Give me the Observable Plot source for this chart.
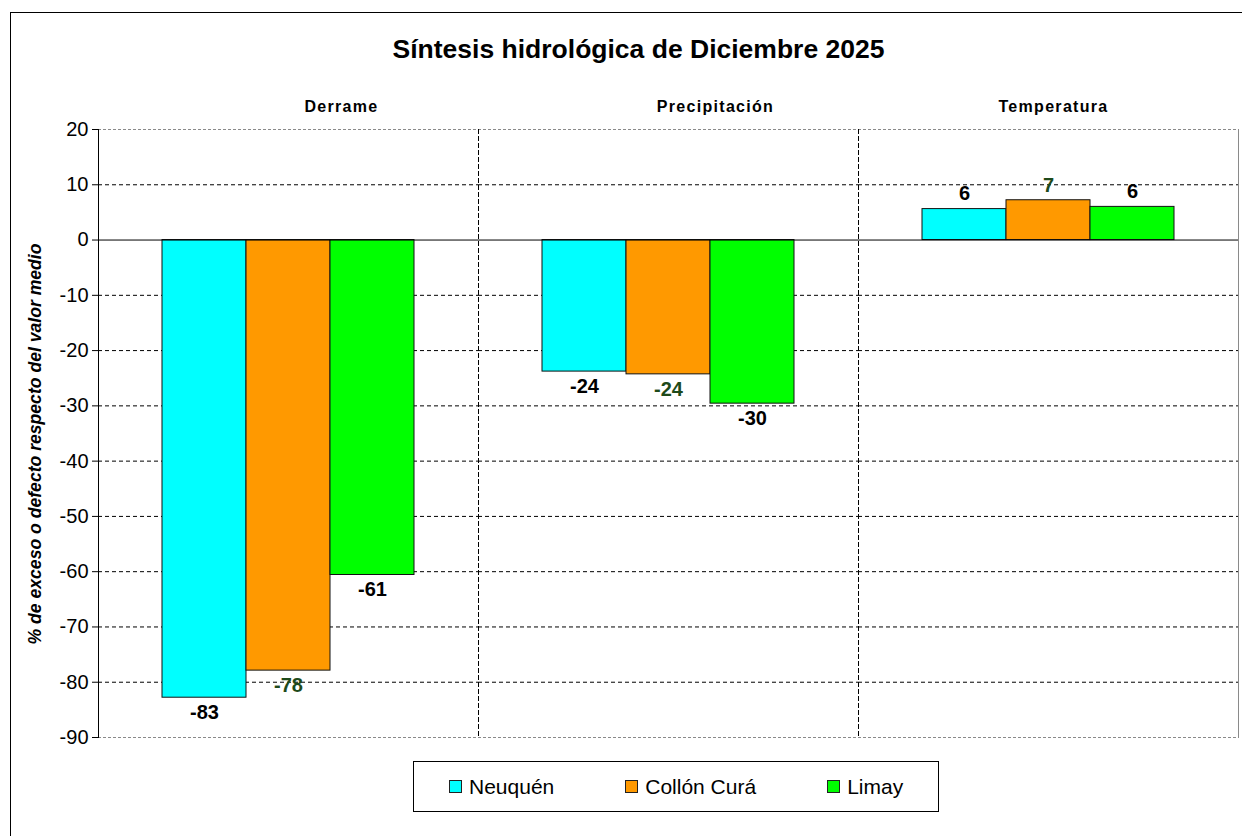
<!DOCTYPE html>
<html>
<head>
<meta charset="utf-8">
<script src="https://cdn.jsdelivr.net/npm/d3@7"></script>
<script src="https://cdn.jsdelivr.net/npm/@observablehq/plot@0.6"></script>
<style>
  html, body { margin: 0; padding: 0; background: #fff; overflow: hidden; }
  body { width: 1242px; height: 836px; position: relative; font-family: "Liberation Sans", Arial, sans-serif; }
  #outer { position: absolute; left: 10px; top: 12px; width: 1300px; height: 900px; border-left: 1.5px solid #000; border-top: 1.5px solid #000; }
  #title { position: absolute; left: 0; top: 36px; width: 1277px; text-align: center; font-size: 26.5px; line-height: 26px; font-weight: bold; color: #000; }
  #ylabel { position: absolute; left: 34.5px; top: 444px; transform: translate(-50%, -50%) rotate(-90deg); white-space: nowrap; font-size: 17.6px; font-weight: bold; font-style: italic; color: #000; }
  #chart { position: absolute; left: 0; top: 70px; }
  #legend { position: absolute; left: 413px; top: 761px; width: 526px; height: 51px; border: 1px solid #000; box-sizing: border-box; display: flex; align-items: center; padding-left: 35px; gap: 71px; }
  .item { display: flex; align-items: center; font-size: 21px; color: #000; }
  .sw { width: 13px; height: 13px; border: 1px solid #222; box-sizing: border-box; margin-right: 7px; }
</style>
</head>
<body>
<div id="outer"></div>
<div id="title">Síntesis hidrológica de Diciembre 2025</div>
<div id="ylabel">% de exceso o defecto respecto del valor medio</div>
<div id="chart"></div>
<div id="legend"></div>
<script>
// ---- data ----
const categories = ["Derrame", "Precipitación", "Temperatura"];
const series = ["Neuquén", "Collón Curá", "Limay"];
const neuquen = [-82.8, -23.8, 5.6];
const collonCura = [-77.9, -24.3, 7.2];
const limay = [-60.6, -29.6, 6.0];
const yTicks = [20, 10, 0, -10, -20, -30, -40, -50, -60, -70, -80, -90];

// ---- styles ----
const colors = ["#00FFFF", "#FF9900", "#00FF00"];
const labelColors = {"Neuquén": "#000000", "Collón Curá": "#1e4a1a", "Limay": "#000000"};
const facetLabelDx = {"Derrame": 53, "Precipitación": 47, "Temperatura": 5};

const valuesBySeries = [neuquen, collonCura, limay];
const rows = [];
categories.forEach((c, ci) => {
  series.forEach((s, si) => {
    rows.push({cat: c, series: s, value: valuesBySeries[si][ci]});
  });
});
const fmt = v => String(Math.round(v));

const labelMarks = [];
for (const s of series) {
  for (const neg of [true, false]) {
    labelMarks.push(Plot.text(rows.filter(d => d.series === s && (d.value < 0) === neg), {
      fx: "cat", x: "series", y: "value", text: d => fmt(d.value),
      dy: neg ? 15 : -15, fill: labelColors[s], fontWeight: "bold", fontSize: 20
    }));
  }
}

const facetLabelMarks = categories.map(c => Plot.text([c], {
  fx: d => d, text: d => d, frameAnchor: "top", dy: -29, dx: facetLabelDx[c],
  fontWeight: "bold", fontSize: 16, fill: "#000"
}));

const chart = Plot.plot({
  width: 1242,
  height: 680,
  marginLeft: 97,
  marginRight: 3,
  marginTop: 59,
  marginBottom: 13,
  style: {fontFamily: "'Liberation Sans', Arial, sans-serif", background: "transparent", color: "#000"},
  fx: {domain: categories, padding: 0, axis: null},
  x: {domain: series, paddingInner: 0, paddingOuter: 0.7525, axis: null},
  y: {domain: [-90, 20]},
  color: {domain: series, range: colors},
  marks: [
    Plot.ruleY(yTicks.filter(t => t !== 0 && t !== 20 && t !== -90), {stroke: "#000", strokeWidth: 1, strokeDasharray: "4,3"}),
    Plot.ruleY([20, -90], {stroke: "#8a8a8a", strokeWidth: 1.2, strokeDasharray: "3,2"}),
    Plot.frame({anchor: "left", stroke: "#000", strokeDasharray: "4,3"}),
    Plot.frame({anchor: "right", stroke: "#8a8a8a", facetAnchor: "right"}),
    Plot.barY(rows, {fx: "cat", x: "series", y: "value", fill: "series", stroke: "#111", strokeWidth: 1}),
    Plot.ruleY([0], {stroke: "#000", strokeWidth: 1}),
    Plot.frame({anchor: "left", stroke: "#000", facetAnchor: "left"}),
    Plot.axisY({ticks: yTicks, tickSize: 6, tickPadding: 4, fontSize: 20, tickFormat: d => String(d), label: null, stroke: "#000"}),
    ...facetLabelMarks,
    ...labelMarks
  ]
});
// letter-spaced facet headings
chart.querySelectorAll("text").forEach(t => {
  if (categories.includes(t.textContent)) t.setAttribute("letter-spacing", "1.3");
});
document.getElementById("chart").appendChild(chart);

// ---- legend ----
const legend = document.getElementById("legend");
series.forEach((s, i) => {
  const item = document.createElement("div");
  item.className = "item";
  const sw = document.createElement("span");
  sw.className = "sw";
  sw.style.background = colors[i];
  const t = document.createElement("span");
  t.textContent = s;
  item.appendChild(sw);
  item.appendChild(t);
  legend.appendChild(item);
});
</script>
</body>
</html>
